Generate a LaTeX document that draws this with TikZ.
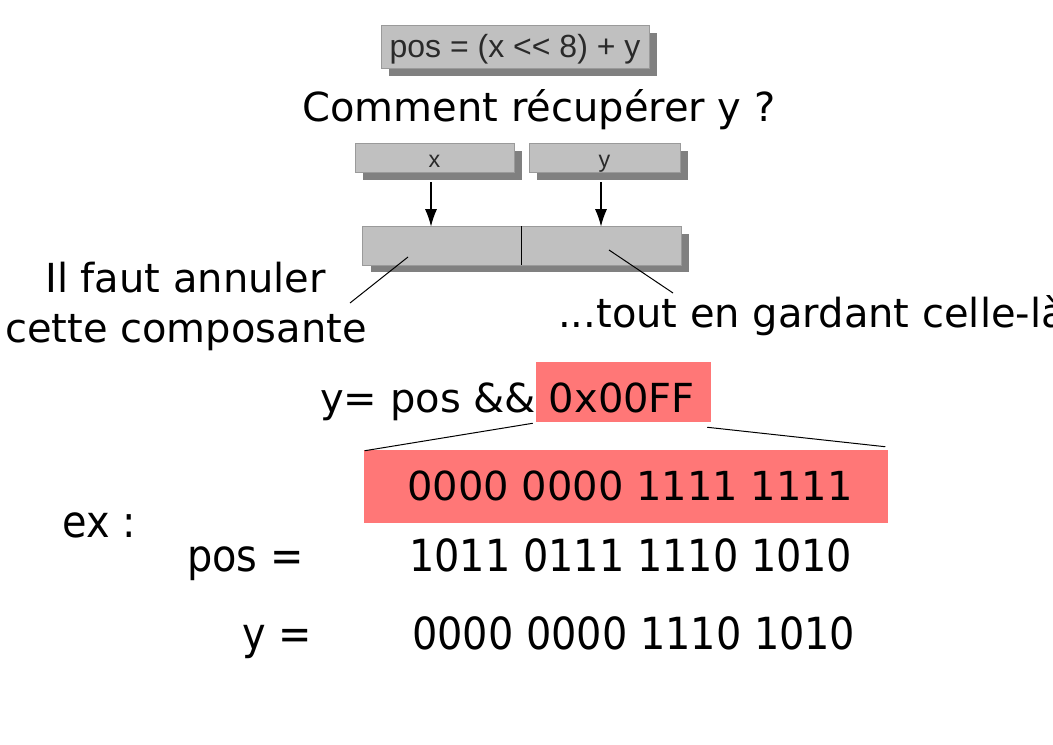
\documentclass[tikz,border=0pt]{standalone}
\usepackage{fontspec}
\setmainfont{DejaVu Sans}
\newfontfamily\arialf{Liberation Sans}
\newfontfamily\condf{DejaVu Sans Condensed}
\usetikzlibrary{arrows.meta,shadows,calc}
\definecolor{gfill}{HTML}{C0C0C0}
\definecolor{gshadow}{HTML}{808080}
\definecolor{gborder}{HTML}{9A9A9A}
\definecolor{gtext}{HTML}{2A2A2A}
\definecolor{pinkf}{HTML}{FF7777}
\begin{document}
\begin{tikzpicture}[x=0.75pt,y=-0.75pt,
  gbox/.style={draw=gborder, fill=gfill, line width=0.75pt, inner sep=0, text=gtext,
    drop shadow={shadow xshift=6pt, shadow yshift=-5.25pt, fill=gshadow, opacity=1}},
  pbox/.style={fill=pinkf, inner sep=0},
  big/.style={font=\fontsize{30}{36}\selectfont, inner sep=0, anchor=base west},
  cond/.style={font=\condf\fontsize{33.2}{40}\selectfont, inner sep=0, anchor=base west},
  lead/.style={draw=black, line width=0.75pt},
  arr/.style={draw=black, line width=0.8pt, -{Latex[length=13pt,width=9pt]}},
]
\fill[white] (0,0) rectangle (1053,745);
\useasboundingbox (0,0) rectangle (1053,745);

% formula box
\node[gbox, minimum width=201pt, minimum height=32.25pt, font=\arialf\fontsize{24}{28}\selectfont,
  text height=15.75pt, text depth=0pt] (pos) at (515,47.5) {pos = (x << 8) + y};

\node[big, anchor=base] (q) at (539,122) {Comment récupérer y ?};

% x and y boxes
\node[gbox, minimum width=119.25pt, minimum height=21.75pt, font=\arialf\fontsize{17.5}{20}\selectfont,
  text height=13pt, text depth=0pt] (xb) at (434.5,158.5) {x};
\node[gbox, minimum width=113.25pt, minimum height=21.75pt, font=\arialf\fontsize{17.5}{20}\selectfont,
  text height=13pt, text depth=0pt] (yb) at (604.5,158.5) {y};

% combined box
\node[gbox, draw=none, minimum width=118.5pt, minimum height=28.5pt] (bl) at (442,246) {};
\node[gbox, draw=none, minimum width=120pt, minimum height=28.5pt] (br) at (601,246) {};
\draw[draw=gborder, line width=0.75pt] (bl.south west) rectangle (br.north east);
\draw[line width=0.75pt] (bl.north east) -- (bl.south east);

% arrows
\draw[arr] ($(xb.south)+(-3.5,9)$) -- ($(bl.north)+(-11,0)$);
\draw[arr] ($(yb.south)+(-3.5,9)$) -- (br.north);

% annotations
\node[big] (l1) at (45,293) {Il faut annuler};
\node[big] (l2) at (5,342) {cette composante};
\coordinate (la) at (350,303);
\draw[lead] ($(bl.center)+(-34,11)$) -- (la);

\node[big] (r1) at (558,327) {...tout en gardant celle-là};
\coordinate (ra) at (673,293);
\draw[lead] ($(br.center)+(8,4)$) -- (ra);

% mask
\node[big] (eq) at (320,412) {y= pos \&\&};
\node[pbox, minimum width=131.25pt, minimum height=45pt] (p1) at (623.5,392) {};
\node[big, anchor=base] (p1t) at (622,412) {0x00FF};

\node[pbox, minimum width=393pt, minimum height=54.75pt] (p2) at (626,486.5) {};
\node[big, anchor=base] (p2t) at (630,500) {0000 0000 1111 1111};

\draw[lead] ($(p1.south west)+(-3,1)$) -- ($(p2.north west)+(1,1)$);
\draw[lead] ($(p1.south east)+(-4,5)$) -- ($(p2.north east)+(-3,-3)$);

% example
\node[cond] (ex) at (62,537) {ex :};
\node[cond] (pl) at (187,571) {pos =};
\node[cond] (pv) at (409,571) {1011 0111 1110 1010};
\node[cond] (yl) at (242,649) {y =};
\node[cond] (yv) at (412,649) {0000 0000 1110 1010};
\end{tikzpicture}
\end{document}
